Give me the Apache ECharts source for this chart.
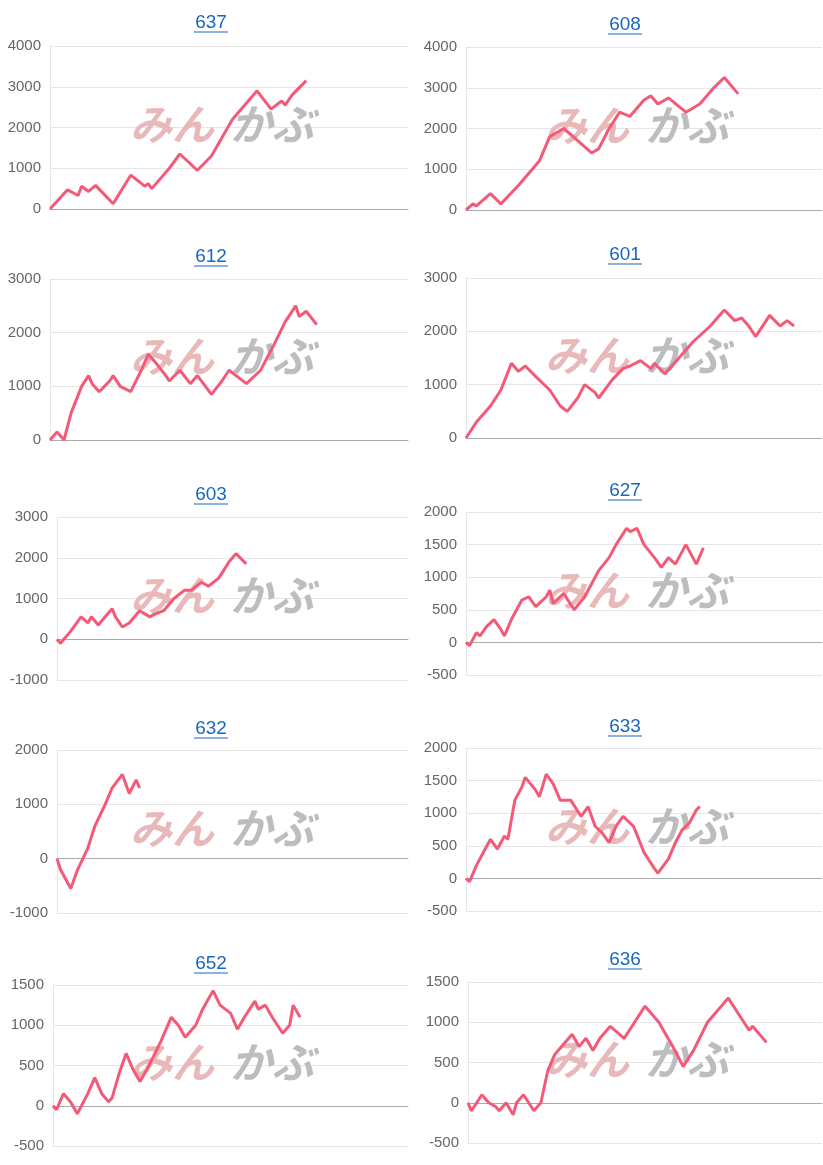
<!DOCTYPE html>
<html><head><meta charset="utf-8">
<script src="https://cdn.jsdelivr.net/npm/echarts@6/dist/echarts.min.js"></script>
<style>html,body{margin:0;padding:0;background:#fff}#c{width:823px;height:1165px}</style>
</head><body><div id="c"></div>
<script>
const titles = ['637','608','612','601','603','627','632','633','652','636'];
const x637 = [0,5,8,9,11,13,18,23,27,28,29,34,37,42,46,52,59,63,66,67,69,73];
const y637 = [0,470,330,560,430,580,130,830,560,620,500,1000,1350,950,1300,2200,2900,2450,2650,2550,2800,3150];
const x608 = [0,2,3,7,10,15,21,24,28,32,36,38,41,44,47,51,53,55,58,63,67,71,74,78];
const y608 = [0,150,100,400,150,600,1200,1800,2000,1700,1400,1500,2000,2400,2300,2700,2800,2600,2750,2400,2600,3000,3250,2850];
const x612 = [0,2,4,6,9,11,12,14,17,18,20,23,26,28,30,33,34,37,40,42,46,49,51,56,60,64,67,70,71,73,76];
const y612 = [0,150,0,500,1000,1200,1050,900,1100,1200,1000,900,1300,1600,1450,1200,1100,1300,1050,1200,850,1100,1300,1050,1300,1800,2200,2500,2300,2400,2150];
const x601 = [0,3,7,10,13,15,17,20,24,27,29,32,34,37,38,42,45,47,50,53,54,57,61,65,70,74,77,79,81,83,87,90,92,94];
const y601 = [0,300,600,900,1400,1250,1350,1150,900,600,500,750,1000,850,750,1100,1300,1350,1450,1300,1400,1200,1500,1800,2100,2400,2200,2250,2100,1900,2300,2100,2200,2100];
const x603 = [0,1,4,7,9,10,12,15,16,17,19,21,24,27,28,31,34,37,39,42,44,47,50,52,55];
const y603 = [0,-100,200,550,400,550,350,650,750,550,300,400,700,550,600,700,1000,1200,1200,1400,1300,1500,1900,2100,1850];
const x627 = [0,1,3,4,6,8,10,11,13,16,18,20,23,24,25,28,31,34,36,38,41,43,46,47,49,51,54,56,58,60,63,65,66,68];
const y627 = [0,-50,150,100,250,350,200,100,350,650,700,550,700,800,600,750,500,700,900,1100,1300,1500,1750,1700,1750,1500,1300,1150,1300,1200,1500,1300,1200,1450];
const x632 = [0,1,4,6,9,11,14,16,19,21,23,24];
const y632 = [0,-200,-550,-200,200,600,1000,1300,1550,1200,1450,1300];
const x633 = [0,1,3,5,7,9,11,12,14,16,17,20,21,23,25,27,30,33,35,37,39,41,43,45,48,51,54,55,58,60,62,64,66,67];
const y633 = [0,-50,200,400,600,450,650,600,1200,1400,1550,1350,1250,1600,1450,1200,1200,950,1100,800,700,550,800,950,800,400,150,80,300,550,750,850,1050,1100];
const x652 = [0,1,3,5,7,10,12,14,16,17,19,21,23,25,27,31,34,36,38,41,43,46,48,51,53,55,58,59,61,63,66,68,69,71];
const y652 = [0,-50,150,50,-100,150,350,150,50,100,400,650,450,300,450,800,1100,1000,850,1000,1200,1430,1250,1150,950,1100,1300,1200,1250,1100,900,1000,1250,1100];
const x636 = [0,1,4,6,8,9,11,13,14,16,19,21,23,25,30,32,34,36,38,41,45,48,51,55,59,62,65,69,71,75,78,81,82,86];
const y636 = [0,-100,100,0,-50,-100,0,-150,0,100,-100,0,400,600,850,700,800,650,800,950,800,1000,1200,1000,700,450,650,1000,1100,1300,1100,900,950,750];
const yMin = [0,0,0,0,-1000,-500,-1000,-500,-500,-500];
const yMax = [4000,4000,3000,3000,3000,2000,2000,2000,1500,1500];
const yStep = [1000,1000,1000,1000,1000,500,1000,500,500,500];

const xs=[x637,x608,x612,x601,x603,x627,x632,x633,x652,x636];
const ys=[y637,y608,y612,y601,y603,y627,y632,y633,y652,y636];
const gridTop=[46,47,279,278,517,512,750,748,985,982];
const gridBot=[209,210,440,438,680,675,913,911,1146,1143];
const gridLeft=[50,466,50,466,57,466,57,466,53,468];
const titleY=[13,15,247,245,485,481,719,717,954,950];

const grid=[],xAxis=[],yAxis=[],series=[],graphic=[];
for(let i=0;i<10;i++){
  const right = i%2===0 ? 415 : 1;
  grid.push({left:gridLeft[i],right:right,top:gridTop[i],height:gridBot[i]-gridTop[i]});
  xAxis.push({gridIndex:i,type:'value',min:0,max:102,axisLabel:{show:false},axisTick:{show:false},splitLine:{show:false},
    axisLine:{onZero:true,lineStyle:{color:'#aaa',width:1}}});
  yAxis.push({gridIndex:i,type:'value',min:yMin[i],max:yMax[i],interval:yStep[i],
    axisLine:{show:true,lineStyle:{color:'#e6e6e6'}},axisTick:{show:false},
    axisLabel:{color:'#666',fontSize:15,fontFamily:'Liberation Sans, Arial',margin:9,formatter:v=>String(v)},
    splitLine:{lineStyle:{color:'#e6e6e6'}}});
  series.push({type:'line',xAxisIndex:i,yAxisIndex:i,showSymbol:false,symbol:'none',
    lineStyle:{color:'#f45a78',width:3},z:5,
    data:xs[i].map((x,k)=>[x,ys[i][k]])});
  const cx = i%2===0 ? 211 : 625;
  graphic.push({type:'text',x:cx,y:titleY[i],z:10,style:{text:titles[i],fill:'#1a66c0',font:'19px "Liberation Sans", Arial',textAlign:'center',textVerticalAlign:'top'}});
  graphic.push({type:'line',z:10,shape:{x1:cx-17,y1:titleY[i]+19,x2:cx+17,y2:titleY[i]+19},style:{stroke:'#1a66c0',lineWidth:1.2}});
  const wy = (gridTop[i]+gridBot[i])/2 - 2;
  const wx = i%2===0 ? 130 : 545;
  graphic.push({type:'text',left:wx,top:wy-22,z:1,style:{text:'みん',fill:'#e9b9b9',font:'italic bold 42px "Noto Sans CJK JP"'}});
  graphic.push({type:'text',left:wx+100,top:wy-22,z:1,style:{text:'かぶ',fill:'#bdbdbd',font:'italic bold 42px "Noto Sans CJK JP"'}});
}
const chart=echarts.init(document.getElementById('c'));
chart.setOption({animation:false,grid,xAxis,yAxis,series,graphic});
</script></body></html>
